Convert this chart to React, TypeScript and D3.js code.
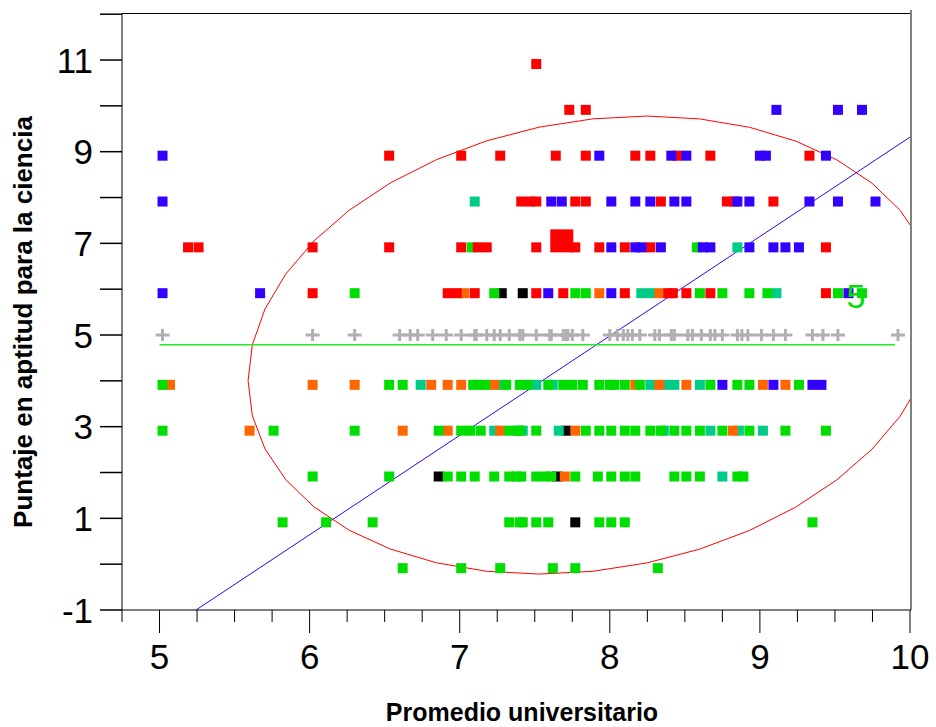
import React from "react";
import * as d3 from "d3";

// ---------- data ----------
const xTickLabels = [5, 6, 7, 8, 9, 10];
const yTickLabels = [-1, 1, 3, 5, 7, 9, 11];

const redPoints: [number, number][] = [
  [7.51, 11],
  [7.73, 10], [7.84, 10],
  [6.53, 9], [7.01, 9], [7.27, 9], [7.64, 9], [7.84, 9], [8.17, 9], [8.27, 9], [8.45, 9], [8.67, 9], [9.33, 9],
  [7.41, 8], [7.47, 8], [7.51, 8], [7.77, 8], [7.84, 8], [8.34, 8], [8.78, 8], [8.83, 8], [9.09, 8],
  [5.19, 7], [5.26, 7], [6.02, 7], [6.53, 7], [7.01, 7], [7.12, 7], [7.18, 7], [7.51, 7], [7.77, 7], [7.93, 7], [8.1, 7], [8.27, 7], [9.44, 7],
  [6.02, 6], [6.92, 6], [6.98, 6], [7.1, 6], [7.51, 6], [7.69, 6], [8.1, 6], [8.39, 6], [8.42, 6], [8.51, 6], [8.67, 6], [9.44, 6],
];
const redBigPoint: [number, number] = [7.68, 7];

const bluePoints: [number, number][] = [
  [9.11, 10], [9.52, 10], [9.68, 10],
  [5.02, 9], [7.93, 9], [8.41, 9], [8.51, 9], [9.0, 9], [9.04, 9], [9.44, 9],
  [5.02, 8], [7.61, 8], [7.68, 8], [8.01, 8], [8.17, 8], [8.27, 8], [8.43, 8], [8.51, 8], [8.85, 8], [8.93, 8], [9.33, 8], [9.52, 8], [9.77, 8],
  [8.01, 7], [8.17, 7], [8.21, 7], [8.34, 7], [8.62, 7], [8.67, 7], [8.93, 7], [9.09, 7], [9.17, 7], [9.26, 7],
  [5.02, 6], [5.67, 6], [7.59, 6], [8.01, 6], [9.59, 6],
  [8.75, 4], [9.09, 4], [9.35, 4], [9.41, 4],
];

const greenPoints: [number, number][] = [
  [7.08, 7], [8.58, 7],
  [6.3, 6], [7.23, 6], [7.77, 6], [7.84, 6], [8.6, 6], [8.75, 6], [8.93, 6], [9.05, 6], [9.52, 6], [9.68, 6],
  [5.02, 4], [6.53, 4], [6.62, 4], [7.09, 4], [7.13, 4], [7.17, 4], [7.31, 4], [7.4, 4], [7.45, 4], [7.59, 4], [7.69, 4], [7.75, 4], [7.82, 4], [7.93, 4], [8.0, 4], [8.03, 4], [8.1, 4], [8.2, 4], [8.67, 4], [8.85, 4], [8.93, 4], [9.26, 4],
  [5.02, 3], [5.76, 3], [6.3, 3], [6.86, 3], [7.01, 3], [7.07, 3], [7.14, 3], [7.33, 3], [7.39, 3], [7.4, 3], [7.51, 3], [7.84, 3], [7.93, 3], [8.01, 3], [8.1, 3], [8.17, 3], [8.27, 3], [8.34, 3], [8.43, 3], [8.51, 3], [8.6, 3], [8.75, 3], [8.93, 3], [9.17, 3], [9.44, 3],
  [6.02, 2], [6.53, 2], [6.92, 2], [7.01, 2], [7.1, 2], [7.23, 2], [7.33, 2], [7.38, 2], [7.41, 2], [7.51, 2], [7.57, 2], [7.61, 2], [7.77, 2], [7.92, 2], [8.01, 2], [8.1, 2], [8.17, 2], [8.43, 2], [8.51, 2], [8.6, 2], [8.85, 2], [8.89, 2],
  [5.82, 1], [6.11, 1], [6.42, 1], [7.33, 1], [7.4, 1], [7.42, 1], [7.51, 1], [7.59, 1], [7.93, 1], [8.01, 1], [8.1, 1], [9.35, 1],
  [6.62, 0], [7.01, 0], [7.27, 0], [7.62, 0], [7.77, 0], [8.32, 0],
];

const tealPoints: [number, number][] = [
  [7.1, 8],
  [8.85, 7],
  [8.21, 6], [8.27, 6], [9.11, 6],
  [6.74, 4], [7.28, 4], [7.51, 4], [7.62, 4], [8.27, 4], [8.37, 4], [8.43, 4], [8.6, 4],
  [7.23, 3], [7.42, 3], [7.66, 3], [8.36, 3], [8.67, 3], [8.86, 3], [9.02, 3],
  [8.75, 2],
];

const orangePoints: [number, number][] = [
  [7.03, 6], [7.93, 6], [8.33, 6],
  [5.07, 4], [6.02, 4], [6.3, 4], [6.81, 4], [6.92, 4], [7.01, 4], [7.23, 4], [8.17, 4], [8.33, 4], [8.51, 4], [9.02, 4], [9.17, 4],
  [5.6, 3], [6.62, 3], [6.92, 3], [7.27, 3], [7.77, 3], [8.82, 3],
  [7.7, 2],
];

const blackPoints: [number, number][] = [
  [7.28, 6], [7.42, 6],
  [7.71, 3],
  [6.86, 2], [7.65, 2],
  [7.77, 1],
];

const grayPlusX = [
  5.02, 6.02, 6.3, 6.6, 6.67, 6.72, 6.82, 6.91, 7.01, 7.1, 7.11, 7.18, 7.23, 7.27, 7.33, 7.4,
  7.42, 7.51, 7.6, 7.61, 7.69, 7.71, 7.72, 7.75, 7.82, 8.0, 8.05, 8.09, 8.12, 8.15, 8.2, 8.3,
  8.33, 8.41, 8.43, 8.52, 8.55, 8.61, 8.67, 8.7, 8.75, 8.85, 8.88, 8.92, 9.01, 9.09, 9.17,
  9.35, 9.42, 9.52, 9.92,
];
const grayPlusY = 5;

const meanY = 4.79;
const meanLineX: [number, number] = [5.0, 9.9];

const regSlope = 2.169;
const regIntercept = -12.372;

const ellipseCenter: [number, number] = [7.888, 4.781];
const ellipseVarX = 5.281;
const ellipseVarY = 24.97;
const ellipseCov = 1.788;

const labelText = "5";
const labelPos: [number, number] = [9.64, 5.6];

// ---------- layout ----------
const W = 936;
const H = 727;
const left = 122;
const right = 910;
const top = 14.2;
const bottom = 610;

const colors: Record<string, string> = {
  red: "#ff0000",
  blue: "#3300ff",
  green: "#00dd00",
  teal: "#00cc88",
  orange: "#ff6600",
  black: "#000000",
};

export default function App() {
  const x = d3.scaleLinear().domain([4.75, 10]).range([left, right]);
  const y = d3.scaleLinear().domain([-1, 12]).range([bottom, top]);

  const sq = 10;
  const dy = 4;

  const series: [string, [number, number][]][] = [
    ["black", blackPoints],
    ["teal", tealPoints],
    ["orange", orangePoints],
    ["green", greenPoints],
    ["red", redPoints],
    ["blue", bluePoints],
  ];

  const xMinor = d3.range(4.75, 10.001, 0.25);
  const yTicks = d3.range(-1, 13, 1);

  // ellipse
  const sx = Math.sqrt(ellipseVarX);
  const c1 = ellipseCov / sx;
  const c2 = Math.sqrt(ellipseVarY - c1 * c1);
  const ellPts: [number, number][] = d3.range(0, 41).map((i) => {
    const t = (i / 40) * 2 * Math.PI;
    return [
      ellipseCenter[0] + sx * Math.cos(t),
      ellipseCenter[1] + c1 * Math.cos(t) + c2 * Math.sin(t),
    ];
  });
  const ellLine = d3
    .line<[number, number]>()
    .x((d) => x(d[0]))
    .y((d) => y(d[1]));

  const regX0 = (-1 - regIntercept) / regSlope;
  const regX1 = 10;

  const font = "'Liberation Sans', Arial, sans-serif";

  return (
    <svg
      width={W}
      height={H}
      style={{ position: "absolute", left: 0, top: 0, background: "#fff" }}
    >
      <defs>
        <clipPath id="plotClip">
          <rect x={left} y={top} width={right - left} height={bottom - top} />
        </clipPath>
      </defs>
      <rect x={0} y={0} width={W} height={H} fill="#fff" />

      {/* frame */}
      <line x1={left} x2={right + 1} y1={13.5} y2={13.5} stroke="#000" strokeWidth={1} />
      <line x1={right + 1} x2={right + 1} y1={10} y2={bottom} stroke="#808080" strokeWidth={2} />

      <g clipPath="url(#plotClip)">
        {/* ellipse */}
        <path d={ellLine(ellPts) || ""} fill="none" stroke="#ff0000" strokeWidth={1} />
        {/* regression line */}
        <line
          x1={x(regX0)}
          y1={y(regSlope * regX0 + regIntercept)}
          x2={x(regX1)}
          y2={y(regSlope * regX1 + regIntercept)}
          stroke="#3300ff"
          strokeWidth={1}
        />
      </g>

      {/* gray pluses */}
      <g stroke="#b0b0b0" strokeWidth={3}>
        {grayPlusX.map((v, i) => (
          <g key={i}>
            <line x1={x(v) - 7} x2={x(v) + 7} y1={y(grayPlusY)} y2={y(grayPlusY)} />
            <line x1={x(v)} x2={x(v)} y1={y(grayPlusY) - 6} y2={y(grayPlusY) + 6} />
          </g>
        ))}
      </g>

      {/* mean line */}
      <line
        x1={x(meanLineX[0])}
        x2={x(meanLineX[1])}
        y1={y(meanY)}
        y2={y(meanY)}
        stroke="#22ee22"
        strokeWidth={1.5}
      />

      {/* points */}
      {series.map(([name, pts]) => (
        <g key={name} fill={colors[name]}>
          {pts.map((p, i) => (
            <rect
              key={i}
              x={x(p[0]) - sq / 2}
              y={y(p[1]) + dy - sq / 2}
              width={sq}
              height={sq}
            />
          ))}
        </g>
      ))}
      <rect
        x={x(redBigPoint[0]) - 11.5}
        y={y(redBigPoint[1]) + dy + 5 - 23}
        width={23}
        height={23}
        fill="#ff0000"
      />

      {/* label */}
      <text
        x={x(labelPos[0])}
        y={y(labelPos[1])}
        fill="#00dd00"
        fontSize={34}
        fontFamily={font}
        textAnchor="middle"
      >
        {labelText}
      </text>

      {/* axes */}
      <line x1={left} x2={left} y1={13.5} y2={bottom} stroke="#000" strokeWidth={1} />
      <line x1={left} x2={right + 1} y1={bottom} y2={bottom} stroke="#000" strokeWidth={1} />

      {yTicks.map((t) => (
        <line key={t} x1={100} x2={left} y1={y(t)} y2={y(t)} stroke="#000" strokeWidth={1.5} />
      ))}
      {yTickLabels.map((t) => (
        <text
          key={t}
          x={93}
          y={y(t) + 12.5}
          textAnchor="end"
          fontSize={35}
          fontFamily={font}
          fill="#000"
        >
          {t}
        </text>
      ))}

      {xMinor.map((t, i) => {
        const major = Math.abs(t - Math.round(t)) < 1e-6;
        return (
          <line
            key={i}
            x1={x(t)}
            x2={x(t)}
            y1={bottom}
            y2={bottom + (major ? 23 : 12)}
            stroke="#000"
            strokeWidth={1}
          />
        );
      })}
      {xTickLabels.map((t) => (
        <text
          key={t}
          x={x(t)}
          y={669}
          textAnchor="middle"
          fontSize={35}
          fontFamily={font}
          fill="#000"
        >
          {t}
        </text>
      ))}

      {/* axis titles */}
      <text
        x={(left + right) / 2 + 6}
        y={721}
        textAnchor="middle"
        fontSize={25}
        fontWeight="bold"
        fontFamily={font}
        fill="#000"
      >
        Promedio universitario
      </text>
      <text
        transform={`translate(32, ${322}) rotate(-90)`}
        textAnchor="middle"
        fontSize={26}
        fontWeight="bold"
        fontFamily={font}
        fill="#000"
      >
        Puntaje en aptitud para la ciencia
      </text>
    </svg>
  );
}
